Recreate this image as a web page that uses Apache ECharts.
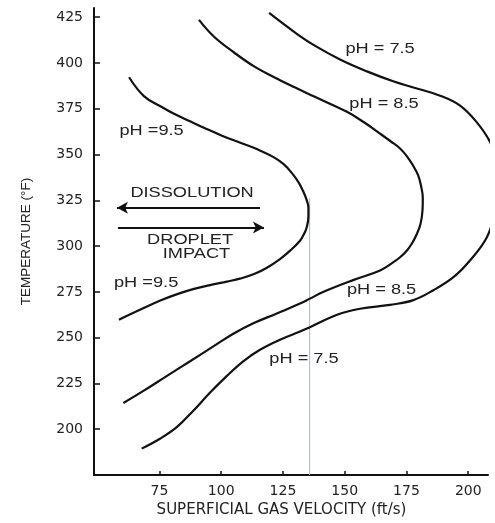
<!DOCTYPE html>
<html>
<head>
<meta charset="utf-8">
<script src="https://cdn.jsdelivr.net/npm/echarts@6/dist/echarts.min.js"></script>
<style>html,body{margin:0;padding:0;background:#fff;}#c{width:495px;height:523px;}</style>
</head>
<body>
<div id="c"></div>
<script>
// Axis ticks
const xTicks = [75, 100, 125, 150, 175, 200];
const yTicks = [200, 225, 250, 275, 300, 325, 350, 375, 400, 425];

// Curves (superficial gas velocity ft/s, temperature °F)
const ph95X = [62.7, 68.7, 75.2, 80.9, 87.4, 93.0, 100.3, 108.0, 114.9, 121.0, 125.4, 129.2, 131.5, 133.2, 134.5, 135.3, 135.3, 134.6, 133.4, 131.9, 127.9, 123.8, 118.5, 113.3, 107.6, 102.3, 95.5, 89.0, 82.5, 75.6, 67.1, 58.6];
const ph95Y = [392.2, 381.9, 376.5, 372.2, 368.1, 364.6, 360.3, 356.3, 352.7, 348.7, 344.6, 338.9, 334.4, 329.9, 325.5, 320.9, 316.0, 310.1, 306.3, 302.9, 297.5, 292.9, 288.2, 284.7, 282.2, 280.6, 278.7, 276.6, 273.9, 270.4, 265.2, 259.8];

const ph85X = [91.0, 97.1, 105.2, 113.3, 121.4, 129.5, 137.2, 150.9, 157.8, 164.3, 168.7, 172.4, 175.2, 177.6, 179.7, 180.9, 181.6, 181.5, 180.7, 179.1, 177.2, 175.1, 172.4, 169.7, 164.3, 153.4, 141.2, 135.9, 131.9, 122.5, 113.0, 104.9, 96.8, 87.4, 77.9, 68.5, 60.4];
const ph85Y = [423.5, 414.3, 405.7, 398.1, 392.2, 386.8, 381.9, 373.3, 367.6, 361.4, 357.1, 353.3, 349.0, 344.1, 338.7, 332.8, 326.3, 319.8, 312.2, 306.3, 301.4, 297.5, 293.9, 291.2, 286.7, 281.4, 274.9, 271.3, 268.6, 263.2, 257.8, 252.1, 245.2, 237.1, 229.0, 220.9, 214.3];

const ph75X = [119.4, 129.5, 137.2, 148.1, 159.0, 169.6, 177.8, 188.6, 196.7, 203.4, 208.8, 210.8, 212.0, 210.8, 207.5, 200.7, 194.0, 185.9, 177.8, 168.3, 156.2, 146.9, 135.9, 131.9, 123.8, 115.7, 108.9, 102.2, 95.5, 88.7, 82.0, 75.2, 67.8];
const ph75Y = [427.3, 417.0, 410.0, 401.9, 395.4, 390.0, 386.6, 382.1, 376.7, 367.7, 356.9, 347.9, 330.0, 318.2, 304.7, 292.1, 283.0, 275.9, 270.5, 267.9, 265.8, 262.5, 255.7, 253.3, 248.9, 243.4, 237.1, 229.0, 220.0, 210.1, 201.1, 194.8, 189.4];

// Reference vertical line
const refX = [135.8, 135.8];
const refY = [175, 326];

// Arrows
const arrowFromX = [115.7, 58.2];
const arrowToX = [57.8, 117.3];
const arrowY = [320.9, 310.1];

// Annotations
const annoText = ['pH = 7.5', 'pH = 8.5', 'pH =9.5', 'DISSOLUTION', 'DROPLET', 'IMPACT', 'pH =9.5', 'pH = 8.5', 'pH = 7.5'];
const annoX = [164.3, 165.9, 71.8, 88.2, 87.4, 90.0, 69.6, 164.9, 133.5];
const annoY = [407.3, 377.6, 362.5, 329.0, 303.0, 295.5, 279.8, 276.0, 238.2];

const zip = (xs, ys) => xs.map((x, i) => [x, ys[i]]);
const curveStyle = { color: '#111', width: 2.2 };
function curve(name, xs, ys) {
  return { name, type: 'line', data: zip(xs, ys), smooth: 0.4, showSymbol: false, symbol: 'none',
    lineStyle: curveStyle, clip: false, silent: true, z: 3 };
}

const chart = echarts.init(document.getElementById('c'));
chart.setOption({
  backgroundColor: '#fff',
  animation: false,
  grid: { left: 94, right: 7, top: 8, bottom: 43 },
  xAxis: {
    type: 'value', min: 48.5, max: 208, interval: 25,
    name: 'SUPERFICIAL GAS VELOCITY (ft/s)', nameLocation: 'middle', nameGap: 28,
    nameTextStyle: { fontFamily: 'DejaVu Sans', fontSize: 15, color: '#222', padding: [0, 19, 0, 0] },
    axisLine: { lineStyle: { color: '#111', width: 2 } },
    axisTick: { inside: true, length: 4, customValues: xTicks, lineStyle: { color: '#111', width: 1.5 } },
    axisLabel: { customValues: xTicks, margin: 9, fontFamily: 'DejaVu Sans', fontSize: 14, color: '#222',
      formatter: v => (xTicks.indexOf(v) >= 0 ? String(v) : '') },
    splitLine: { show: false }
  },
  yAxis: {
    type: 'value', min: 175, max: 430, interval: 25,
    name: 'TEMPERATURE (°F)', nameLocation: 'middle', nameGap: 61,
    nameTextStyle: { fontFamily: 'Liberation Sans', fontSize: 13.5, color: '#222' },
    axisLine: { lineStyle: { color: '#111', width: 2 } },
    axisTick: { inside: true, length: 6, customValues: yTicks, lineStyle: { color: '#111', width: 1.5 } },
    axisLabel: { customValues: yTicks, margin: 11, fontFamily: 'DejaVu Sans', fontSize: 14, color: '#222',
      formatter: v => (yTicks.indexOf(v) >= 0 ? String(v) : '') },
    splitLine: { show: false }
  },
  series: [
    { name: 'ref', type: 'line', data: zip(refX, refY), showSymbol: false, symbol: 'none',
      lineStyle: { color: '#aab4bf', width: 1 }, silent: true, z: 2 },
    curve('pH 9.5', ph95X, ph95Y),
    curve('pH 8.5', ph85X, ph85Y),
    curve('pH 7.5', ph75X, ph75Y),
    { name: 'arrows', type: 'line', data: [], silent: true,
      markLine: { silent: true, symbol: ['none', 'arrow'], symbolSize: [9, 11], animation: false,
        label: { show: false }, lineStyle: { color: '#111', width: 2, type: 'solid' },
        data: arrowY.map((y, i) => [{ coord: [arrowFromX[i], y] }, { coord: [arrowToX[i], y] }]) } },
    { name: 'labels', type: 'custom', silent: true, clip: false, z: 5,
      data: annoX.map((x, i) => [x, annoY[i], i]),
      renderItem: (params, api) => {
        const p = api.coord([api.value(0), api.value(1)]);
        const i = api.value(2);
        return { type: 'text', x: p[0], y: p[1], scaleX: 1.3,
          style: { text: annoText[i], fontFamily: 'Liberation Sans', fontSize: 14, fill: '#222',
            align: 'center', verticalAlign: 'middle', textAlign: 'center', textVerticalAlign: 'middle' } };
      } }
  ]
});
</script>
</body>
</html>
